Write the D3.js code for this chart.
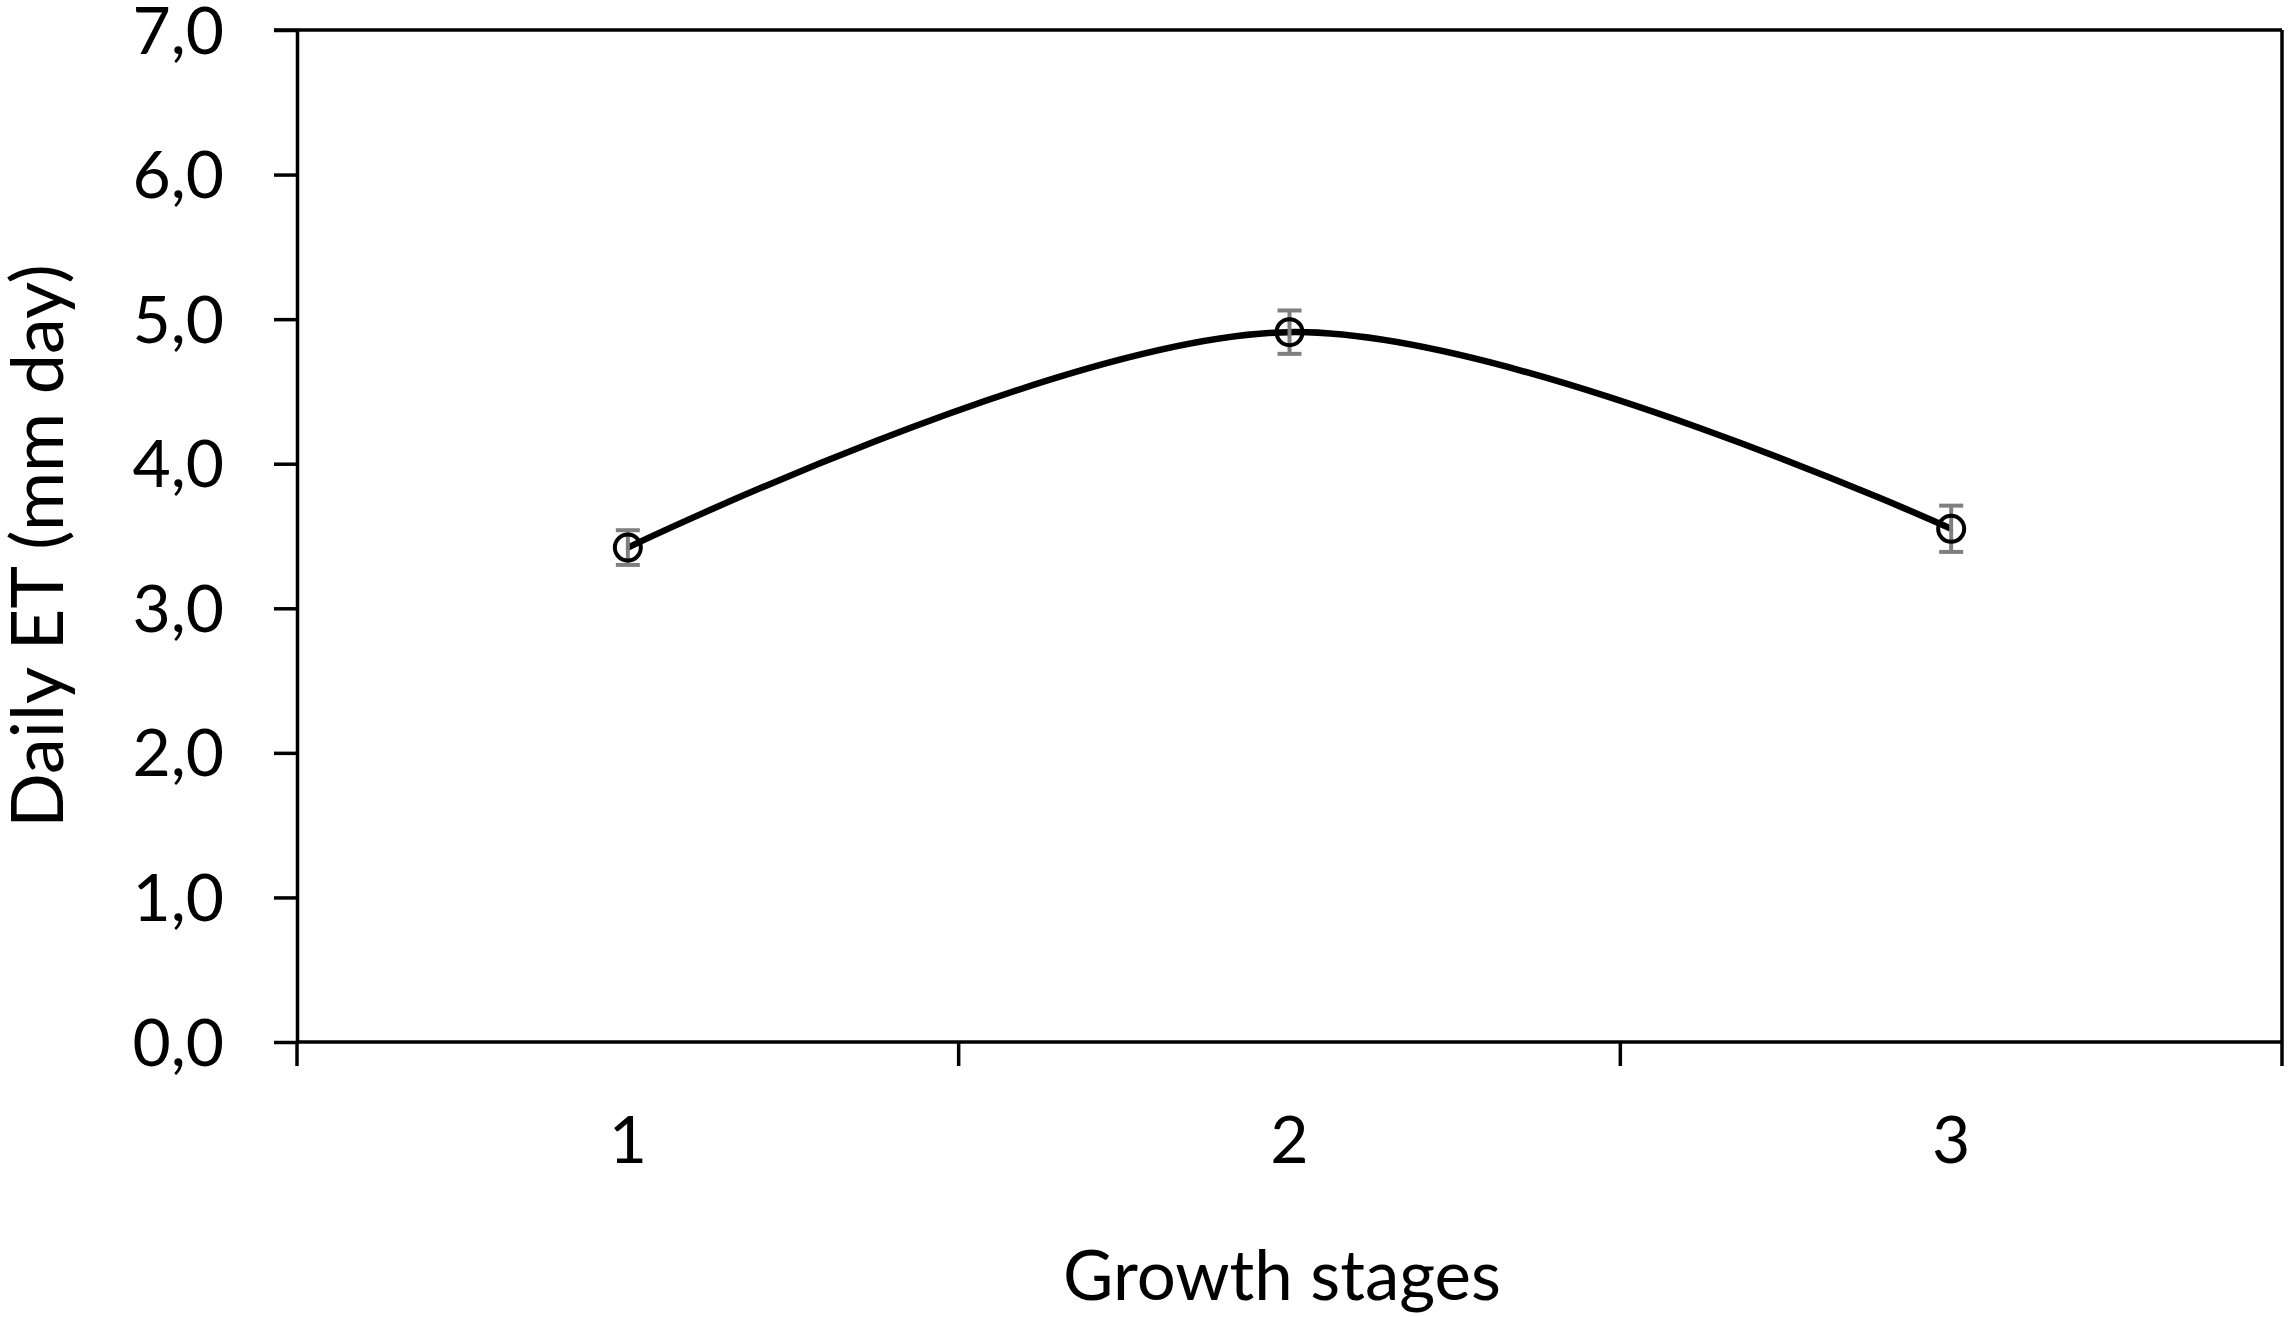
<!DOCTYPE html>
<html>
<head>
<meta charset="utf-8">
<script src="https://cdn.jsdelivr.net/npm/d3@7"></script>
<style>
  html, body { margin: 0; padding: 0; background: #fff; }
  svg { display: block; }
  text { font-family: Lato, "Open Sans", sans-serif; fill: #000; }
</style>
</head>
<body>
<script>
const stages = ["1", "2", "3"];
const etValues = [3.42, 4.91, 3.55];
const etErrors = [0.12, 0.15, 0.16];
const yTicks = [0, 1, 2, 3, 4, 5, 6, 7];
const xTitle = "Growth stages";
const yTitle = "Daily ET (mm day)";

const W = 2288, H = 1317;
const m = { left: 297, right: W - 2282, top: 30, bottom: H - 1042 };

const svg = d3.select("body").append("svg").attr("width", W).attr("height", H);

const x = d3.scaleBand().domain(stages).range([m.left, W - m.right]).padding(0);
const y = d3.scaleLinear().domain([0, 7]).range([H - m.bottom, m.top]);

const fmt = v => d3.format(".1f")(v).replace(".", ",");

// Y axis
const yAxis = svg.append("g").attr("transform", `translate(${m.left},0)`)
  .call(d3.axisLeft(y).tickValues(yTicks).tickFormat(fmt).tickSize(23).tickPadding(50).tickSizeOuter(0));
yAxis.select(".domain").attr("stroke", "#000").attr("stroke-width", 3.5);
yAxis.selectAll(".tick line").attr("stroke", "#000").attr("stroke-width", 3.5);
yAxis.selectAll(".tick text").attr("font-size", 66).attr("font-family", "Lato").attr("dy", "0.35em");

// X axis (category boundaries as ticks)
const bounds = [m.left, ...stages.map(s => x(s) + x.bandwidth())];
const xg = svg.append("g");
xg.append("line").attr("x1", m.left).attr("x2", W - m.right)
  .attr("y1", y(0)).attr("y2", y(0)).attr("stroke", "#000").attr("stroke-width", 3.5);
xg.selectAll("line.tk").data(bounds).join("line").attr("class", "tk")
  .attr("x1", d => d).attr("x2", d => d)
  .attr("y1", y(0)).attr("y2", y(0) + 24).attr("stroke", "#000").attr("stroke-width", 3.5);
xg.selectAll("text").data(stages).join("text")
  .attr("x", d => x(d) + x.bandwidth() / 2)
  .attr("y", 1163)
  .attr("text-anchor", "middle").attr("font-size", 66)
  .text(d => d);

// Top and right frame
svg.append("line").attr("x1", m.left - 23).attr("x2", W - m.right)
  .attr("y1", y(7)).attr("y2", y(7)).attr("stroke", "#000").attr("stroke-width", 3.5);
svg.append("line").attr("x1", W - m.right).attr("x2", W - m.right)
  .attr("y1", y(7)).attr("y2", y(0)).attr("stroke", "#000").attr("stroke-width", 3.5);

// Titles
svg.append("text").attr("x", 1282).attr("y", 1300)
  .attr("text-anchor", "middle").attr("font-size", 69).text(xTitle);
svg.append("text").attr("transform", `translate(63,546) rotate(-90)`)
  .attr("text-anchor", "middle").attr("font-size", 72).text(yTitle);

// Data
const pts = stages.map((s, i) => ({ cx: x(s) + x.bandwidth() / 2, v: etValues[i], e: etErrors[i] }));

const line = d3.line().x(d => d.cx).y(d => y(d.v)).curve(d3.curveCardinal.tension(0));
svg.append("path").datum(pts).attr("d", line)
  .attr("fill", "none").attr("stroke", "#000").attr("stroke-width", 6.5);

const eb = svg.append("g").attr("stroke", "#7f7f7f").attr("stroke-width", 4);
eb.selectAll("line.v").data(pts).join("line").attr("class", "v")
  .attr("x1", d => d.cx).attr("x2", d => d.cx)
  .attr("y1", d => y(d.v + d.e)).attr("y2", d => y(d.v - d.e));
eb.selectAll("line.t").data(pts).join("line").attr("class", "t")
  .attr("x1", d => d.cx - 12).attr("x2", d => d.cx + 12)
  .attr("y1", d => y(d.v + d.e)).attr("y2", d => y(d.v + d.e));
eb.selectAll("line.b").data(pts).join("line").attr("class", "b")
  .attr("x1", d => d.cx - 12).attr("x2", d => d.cx + 12)
  .attr("y1", d => y(d.v - d.e)).attr("y2", d => y(d.v - d.e));

svg.append("g").selectAll("circle").data(pts).join("circle")
  .attr("cx", d => d.cx).attr("cy", d => y(d.v)).attr("r", 13)
  .attr("fill", "none").attr("stroke", "#000").attr("stroke-width", 4);
</script>
</body>
</html>
